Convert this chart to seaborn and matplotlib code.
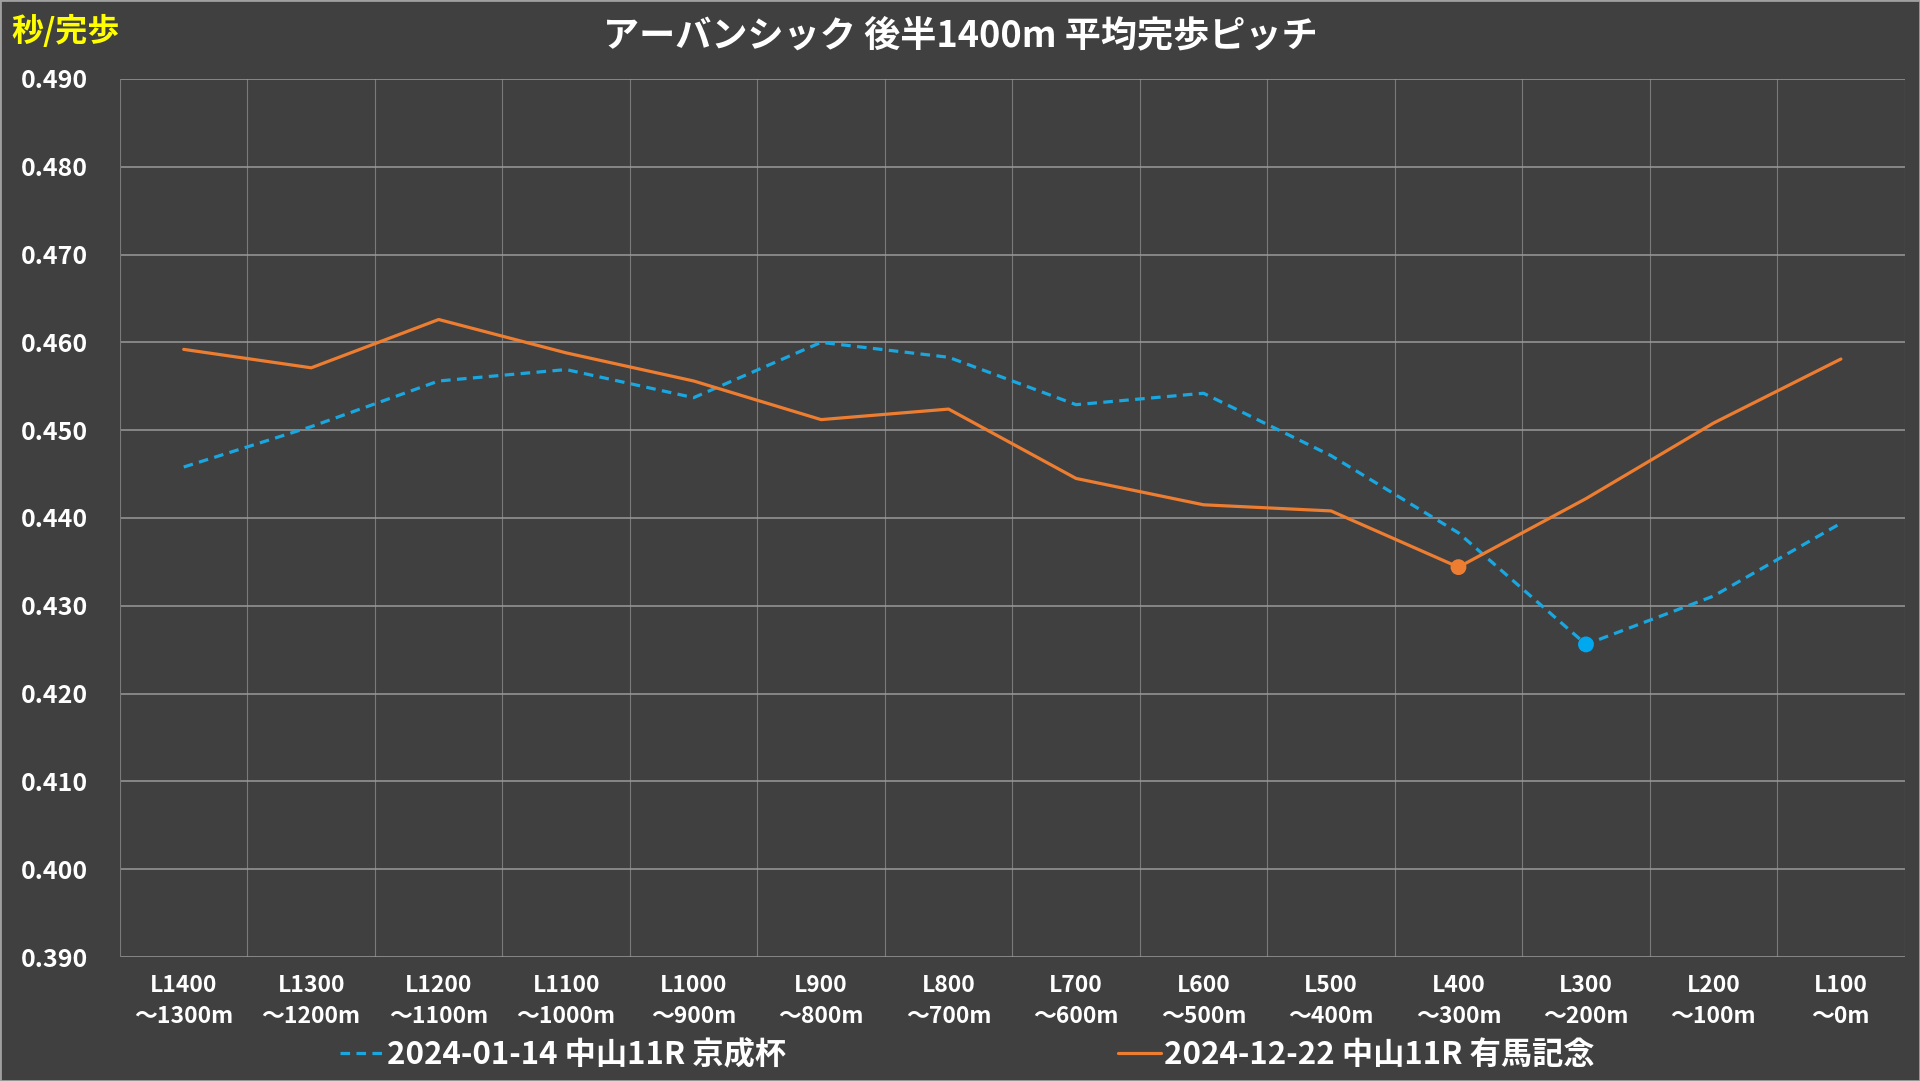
import numpy as np
import pandas as pd
import seaborn as sns
import matplotlib.pyplot as plt
from matplotlib.patches import Rectangle
from matplotlib.lines import Line2D

# 区間ラベル
kukan = ['L1400\n～1300m', 'L1300\n～1200m', 'L1200\n～1100m', 'L1100\n～1000m',
         'L1000\n～900m', 'L900\n～800m', 'L800\n～700m', 'L700\n～600m',
         'L600\n～500m', 'L500\n～400m', 'L400\n～300m', 'L300\n～200m',
         'L200\n～100m', 'L100\n～0m']

# 平均完歩ピッチ (秒/完歩)
keisei = [0.4458, 0.4504, 0.4556, 0.4569, 0.4537, 0.4600, 0.4583,
          0.4529, 0.4542, 0.4471, 0.4383, 0.4256, 0.4311, 0.4394]
arima = [0.4592, 0.4571, 0.4626, 0.4588, 0.4556, 0.4512, 0.4524,
         0.4445, 0.4415, 0.4408, 0.4344, 0.4422, 0.4508, 0.4581]

race1 = '2024-01-14 中山11R 京成杯'
race2 = '2024-12-22 中山11R 有馬記念'

df = pd.concat([
    pd.DataFrame({'pos': range(len(kukan)), 'pitch': keisei, 'race': race1}),
    pd.DataFrame({'pos': range(len(kukan)), 'pitch': arima, 'race': race2}),
])

BG = '#404040'
BLUE = '#1AA7E0'
ORANGE = '#ED7D31'

sns.set_theme(style='dark')
plt.rcParams['font.family'] = ['Noto Sans CJK JP', 'DejaVu Sans']
plt.rcParams['font.weight'] = 'bold'

fig = plt.figure(figsize=(19.2, 10.81), dpi=100, facecolor=BG)
ax = fig.add_axes([0.0625, 0.1147, 0.9295, 0.8123])
ax.set_facecolor(BG)

sns.lineplot(data=df, x='pos', y='pitch', hue='race', style='race',
             palette={race1: BLUE, race2: ORANGE},
             dashes={race1: (3, 2), race2: ''},
             linewidth=2.3, ax=ax, sort=False, legend=False)

# 最小値に印
mins = pd.concat([g.loc[[g['pitch'].idxmin()]] for _, g in df.groupby('race')])
sns.scatterplot(data=mins, x='pos', y='pitch', hue='race',
                palette={race1: '#00A8F0', race2: ORANGE},
                s=130, edgecolor='none', ax=ax, legend=False, zorder=5)

yt = np.arange(0.390, 0.4901, 0.010)
ax.set_xlim(-0.5, len(kukan) - 0.5)
ax.set_ylim(0.390, 0.490)
ax.set_yticks(yt)
ax.set_yticklabels([f'{v:.3f}' for v in yt])
ax.set_xticks(range(len(kukan)))
ax.set_xticklabels(kukan, linespacing=1.45)
ax.set_xticks(np.arange(0.5, len(kukan) - 0.5), minor=True)

ax.grid(False)
ax.grid(axis='y', which='major', color='#9a9a9a', linewidth=1.1)
ax.grid(axis='x', which='minor', color='#7a7a7a', linewidth=0.8)
ax.axvline(-0.5, color='#7a7a7a', linewidth=0.8)
ax.axvline(len(kukan) - 0.5, color='#7a7a7a', linewidth=0.8)
for s in ax.spines.values():
    s.set_visible(False)

ax.tick_params(axis='y', colors='white', labelsize=18, length=0, pad=23)
ax.tick_params(axis='x', colors='white', labelsize=16.5, length=0, pad=12)
ax.tick_params(axis='x', which='minor', length=0)
for t in ax.get_xticklabels() + ax.get_yticklabels():
    t.set_fontweight('bold')
ax.set_xlabel('')
ax.set_ylabel('')

fig.text(0.5, 0.967, 'アーバンシック 後半1400m 平均完歩ピッチ', color='white',
         fontsize=26, fontweight='bold', ha='center', va='center')
fig.text(0.006, 0.971, '秒/完歩', color='#FFFF00', fontsize=23,
         fontweight='bold', ha='left', va='center')

# 凡例
h1 = Line2D([], [], color=BLUE, linewidth=2.3, dashes=(3, 2))
h2 = Line2D([], [], color=ORANGE, linewidth=2.3)
leg = fig.legend([h1, h2], [race1, race2], loc='center', ncol=2,
                 bbox_to_anchor=(0.504, 0.024), frameon=False,
                 handlelength=1.4, handletextpad=0.1, columnspacing=10.6,
                 prop={'size': 22.5, 'weight': 'bold'})
for t in leg.get_texts():
    t.set_color('white')

fig.add_artist(Rectangle((0, 0), 1, 1, transform=fig.transFigure,
                         fill=False, edgecolor='#a0a0a0', linewidth=2))

fig.savefig('out.png', dpi=100, facecolor=BG)
